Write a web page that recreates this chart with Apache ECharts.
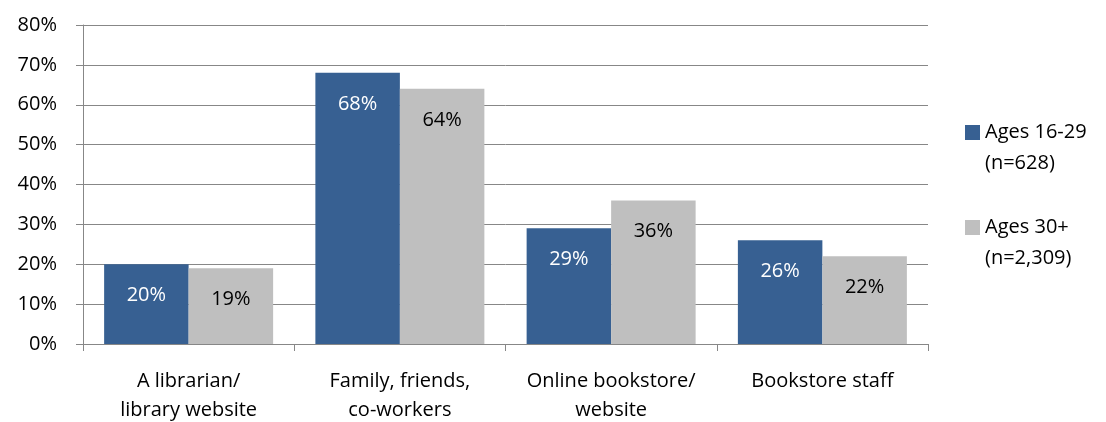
<!DOCTYPE html>
<html>
<head>
<meta charset="utf-8">
<script src="https://cdn.jsdelivr.net/npm/echarts@6/dist/echarts.min.js"></script>
<style>
  html, body { margin: 0; padding: 0; background: #fff; }
  #chart { width: 1106px; height: 422px; }
</style>
</head>
<body>
<div id="chart"></div>
<script>
const categories = ['A librarian/\nlibrary website', 'Family, friends,\nco-workers', 'Online bookstore/\nwebsite', 'Bookstore staff']
const youngName = 'Ages 16-29\n(n=628)'
const olderName = 'Ages 30+\n(n=2,309)'
const youngValues = [20, 68, 29, 26]
const olderValues = [19, 64, 36, 22]

const fontFamily = 'Open Sans'
const fontSize = 20
const gridColor = '#878787'

// square sitting next to the first line of a two-line legend name
const legendIcon = 'path://M0,0L0.01,0M0,8H15V23H0ZM0,62L0.01,62'

const chart = echarts.init(document.getElementById('chart'))

chart.setOption({
  animation: false,
  textStyle: { fontFamily },
  legend: {
    orient: 'vertical',
    left: 960,
    top: 112,
    itemWidth: 15,
    itemHeight: 62,
    itemGap: 33,
    icon: legendIcon,
    textStyle: {
      fontSize,
      color: '#000',
      lineHeight: 31,
      fontFamily,
    },
    data: [youngName, olderName],
  },
  grid: {
    left: 83,
    right: 178,
    top: 25,
    bottom: 78,
    outerBoundsMode: 'none',
  },
  xAxis: {
    type: 'category',
    data: categories,
    axisLine: { lineStyle: { color: gridColor, width: 1 } },
    axisTick: { show: true, length: 7, lineStyle: { color: gridColor } },
    axisLabel: {
      color: '#000',
      fontSize,
      lineHeight: 29,
      margin: 23,
      interval: 0,
      fontFamily,
    },
  },
  yAxis: {
    type: 'value',
    min: 0,
    max: 80,
    interval: 10,
    axisLine: { show: true, lineStyle: { color: gridColor, width: 1 } },
    axisTick: { show: true, length: 7, lineStyle: { color: gridColor } },
    splitLine: { lineStyle: { color: gridColor, width: 1 } },
    axisLabel: {
      color: '#000',
      fontSize,
      margin: 26,
      formatter: (v) => v + '%',
      fontFamily,
    },
  },
  series: [
    {
      name: youngName,
      type: 'bar',
      data: youngValues,
      barGap: '0%',
      barCategoryGap: '20%',
      itemStyle: { color: '#376092' },
      label: {
        show: true,
        position: 'insideTop',
        distance: 21,
        color: '#fff',
        fontSize,
        fontFamily,
        formatter: (p) => p.value + '%',
      },
    },
    {
      name: olderName,
      type: 'bar',
      data: olderValues,
      itemStyle: { color: '#bfbfbf' },
      label: {
        show: true,
        position: 'insideTop',
        distance: 21,
        color: '#000',
        fontSize,
        fontFamily,
        formatter: (p) => p.value + '%',
      },
    },
  ],
})
</script>
</body>
</html>
